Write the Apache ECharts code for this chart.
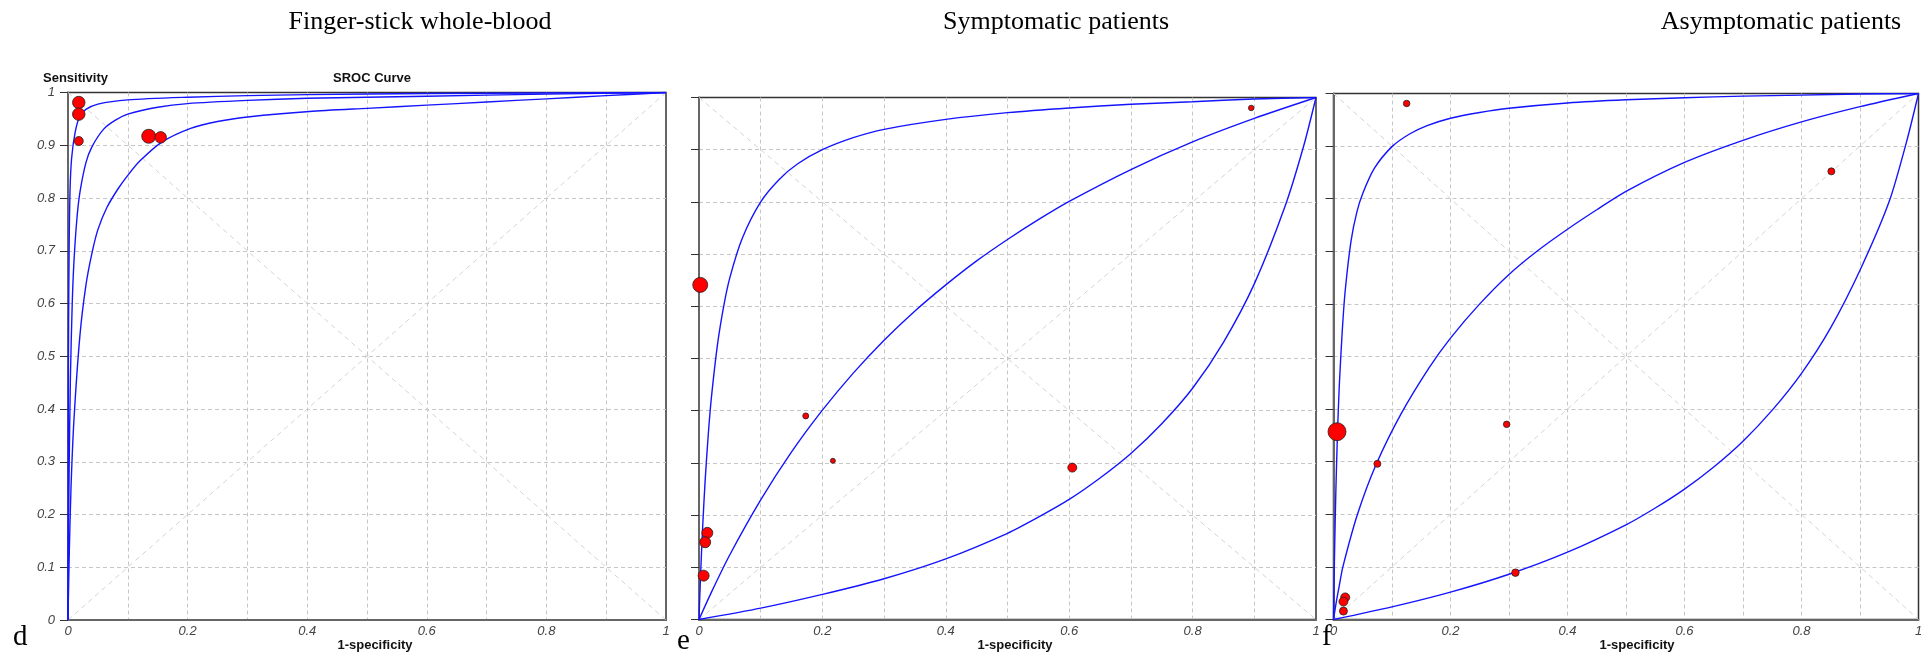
<!DOCTYPE html>
<html><head><meta charset="utf-8">
<script src="https://cdn.jsdelivr.net/npm/echarts@6/dist/echarts.min.js"></script>
<style>html,body{margin:0;padding:0;background:#fff}#c{width:1927px;height:659px}</style>
</head><body><div id="c"></div>
<script>
// ---------- data ----------
const panelTitles = ['Finger-stick whole-blood', 'Symptomatic patients', 'Asymptomatic patients'];
const panelLetters = ['d', 'e', 'f'];
const yAxisName = 'Sensitivity';
const xAxisName = '1-specificity';
const chartName = 'SROC Curve';
const diagUp = [[0, 0], [1, 1]];
const diagDown = [[0, 1], [1, 0]];

// panel d (finger-stick whole blood): [1-specificity, sensitivity]
const dStudies = [[0.018, 0.981], [0.018, 0.959], [0.018, 0.908], [0.135, 0.917], [0.155, 0.915]];
const dWeight = [12.5, 12.5, 9, 14, 11.5];
const dCurveTop = [[0, 0], [0.0005, 0.39], [0.001, 0.56], [0.002, 0.72], [0.0034, 0.815], [0.006, 0.875], [0.012, 0.925], [0.02, 0.956], [0.03, 0.968], [0.05, 0.978], [0.1, 0.986], [0.2, 0.991], [0.3, 0.994], [0.4, 0.996], [0.6, 0.998], [0.8, 0.999], [1, 1]];
const dCurveMid = [[0, 0], [0.001, 0.174], [0.002, 0.296], [0.004, 0.458], [0.007, 0.597], [0.01, 0.68], [0.015, 0.762], [0.02, 0.811], [0.03, 0.867], [0.04, 0.897], [0.06, 0.931], [0.08, 0.948], [0.1, 0.959], [0.15, 0.972], [0.2, 0.979], [0.3, 0.985], [0.4, 0.989], [0.6, 0.993], [0.8, 0.997], [1, 1]];
const dCurveBot = [[0, 0], [0.002, 0.12], [0.005, 0.25], [0.01, 0.38], [0.02, 0.54], [0.03, 0.635], [0.04, 0.695], [0.05, 0.74], [0.065, 0.782], [0.084, 0.818], [0.1, 0.843], [0.12, 0.87], [0.157, 0.906], [0.205, 0.932], [0.25, 0.945], [0.304, 0.954], [0.404, 0.964], [0.5, 0.97], [0.6, 0.976], [0.7, 0.982], [0.8, 0.988], [0.9, 0.994], [1, 1]];

// panel e (symptomatic)
const eStudies = [[0.002, 0.641], [0.173, 0.390], [0.217, 0.304], [0.605, 0.291], [0.895, 0.980], [0.0135, 0.166], [0.010, 0.148], [0.0075, 0.084]];
const eWeight = [15, 6, 5, 9, 5.5, 11, 11, 11];
const eCurveTop = [[0, 0], [0.001, 0.035], [0.003, 0.098], [0.006, 0.179], [0.01, 0.267], [0.015, 0.354], [0.02, 0.424], [0.03, 0.527], [0.04, 0.6], [0.05, 0.655], [0.07, 0.73], [0.1, 0.8], [0.13, 0.843], [0.16, 0.873], [0.2, 0.9], [0.25, 0.923], [0.3, 0.939], [0.4, 0.958], [0.5, 0.971], [0.6, 0.98], [0.7, 0.987], [0.8, 0.992], [0.9, 0.997], [1, 1]];
const eCurveMid = [[0, 0], [0.02, 0.052], [0.05, 0.124], [0.1, 0.229], [0.15, 0.321], [0.2, 0.401], [0.25, 0.472], [0.3, 0.535], [0.35, 0.591], [0.4, 0.641], [0.45, 0.687], [0.5, 0.728], [0.55, 0.766], [0.6, 0.801], [0.7, 0.862], [0.8, 0.915], [0.9, 0.96], [1, 1]];
const eCurveBot = [[0, 0], [0.1, 0.0217], [0.2, 0.048], [0.3, 0.078], [0.4, 0.116], [0.5, 0.165], [0.55, 0.196], [0.6, 0.23], [0.65, 0.271], [0.7, 0.318], [0.75, 0.375], [0.8, 0.443], [0.85, 0.531], [0.9, 0.643], [0.95, 0.792], [0.98, 0.907], [1, 1]];

// panel f (asymptomatic)
const fStudies = [[0.125, 0.981], [0.006, 0.357], [0.296, 0.371], [0.075, 0.296], [0.311, 0.089], [0.020, 0.042], [0.017, 0.034], [0.017, 0.016], [0.851, 0.852]];
const fWeight = [6.5, 18, 6.5, 7, 7.5, 9, 9, 8, 7];
const fCurveTop = [[0, 0], [0.001, 0.074], [0.002, 0.138], [0.004, 0.243], [0.007, 0.361], [0.01, 0.447], [0.015, 0.549], [0.02, 0.625], [0.03, 0.72], [0.04, 0.775], [0.05, 0.81], [0.07, 0.858], [0.1, 0.899], [0.13, 0.923], [0.16, 0.939], [0.2, 0.953], [0.25, 0.964], [0.3, 0.972], [0.4, 0.982], [0.5, 0.988], [0.6, 0.992], [0.7, 0.995], [0.8, 0.997], [0.9, 0.999], [1, 1]];
const fCurveMid = [[0, 0], [0.005, 0.035], [0.01, 0.065], [0.016, 0.1], [0.041, 0.2], [0.073, 0.295], [0.115, 0.39], [0.163, 0.478], [0.2, 0.535], [0.25, 0.6], [0.3, 0.656], [0.35, 0.702], [0.4, 0.742], [0.45, 0.779], [0.5, 0.814], [0.6, 0.869], [0.7, 0.911], [0.8, 0.946], [0.9, 0.975], [1, 1]];
const fCurveBot = [[0, 0], [0.1, 0.024], [0.2, 0.052], [0.3, 0.086], [0.4, 0.128], [0.5, 0.18], [0.55, 0.212], [0.6, 0.248], [0.65, 0.29], [0.7, 0.339], [0.75, 0.398], [0.8, 0.468], [0.85, 0.555], [0.9, 0.664], [0.95, 0.795], [0.98, 0.91], [1, 1]];

const panels = [
  { studies: dStudies, weight: dWeight, curves: [dCurveTop, dCurveMid, dCurveBot] },
  { studies: eStudies, weight: eWeight, curves: [eCurveTop, eCurveMid, eCurveBot] },
  { studies: fStudies, weight: fWeight, curves: [fCurveTop, fCurveMid, fCurveBot] }
];

// ---------- layout ----------
const grids = [
  { left: 68, top: 92.5, width: 598, height: 527.5 },
  { left: 699, top: 97.5, width: 617, height: 522 },
  { left: 1333.5, top: 93.5, width: 585, height: 526 }
];
const titleCenters = [420, 1056, 1781];
const xNameCenters = [375, 1015, 1637];
const letterPos = [[13, 652], [677, 656], [1322, 652]];

const sans = 'Liberation Sans, Arial, sans-serif';
const serif = 'Liberation Serif, Times New Roman, serif';

function xFmt(v) {
  const t = Math.round(v * 10);
  if (t % 2) return '';
  if (t === 0) return '0';
  if (t === 10) return '1';
  return (t / 10).toString();
}
function yFmt(v) {
  const t = Math.round(v * 10);
  if (t === 0) return '0';
  if (t === 10) return '1';
  return (t / 10).toString();
}

const xAxes = [], yAxes = [], series = [];
grids.forEach((g, i) => {
  g.show = true;
  g.borderColor = '#333';
  g.borderWidth = 1.5;
  g.containLabel = false;
  const splitLine = { show: true, showMinLine: false, showMaxLine: false, lineStyle: { color: '#c6c6c6', type: [4, 3], width: 1 } };
  xAxes.push({
    gridIndex: i, type: 'value', min: 0, max: 1, interval: 0.1,
    axisLine: { show: true, onZero: false, lineStyle: { color: '#666', width: 2 } },
    axisTick: { show: false },
    axisLabel: { formatter: xFmt, fontStyle: 'italic', color: '#444', fontSize: 13, fontFamily: sans, margin: 5, showMinLabel: true, showMaxLabel: true, hideOverlap: false },
    splitLine: splitLine
  });
  yAxes.push({
    gridIndex: i, type: 'value', min: 0, max: 1, interval: 0.1,
    axisLine: { show: true, onZero: false, lineStyle: { color: '#666', width: 2 } },
    axisTick: { show: true, length: 8, lineStyle: { color: '#333', width: 1 } },
    axisLabel: { show: i === 0, formatter: yFmt, fontStyle: 'italic', color: '#444', fontSize: 13, fontFamily: sans, margin: 13 },
    splitLine: splitLine
  });
  [diagUp, diagDown].forEach(dg => series.push({
    type: 'line', xAxisIndex: i, yAxisIndex: i, data: dg, silent: true, symbol: 'none',
    lineStyle: { color: '#d4d4d4', width: 1, type: [5, 4] }, z: 1, animation: false
  }));
  panels[i].curves.forEach(c => series.push({
    type: 'line', xAxisIndex: i, yAxisIndex: i, data: c, symbol: 'none', smooth: 0.25,
    lineStyle: { color: '#1414ff', width: 1.4 }, z: 3, animation: false
  }));
  const p = panels[i];
  series.push({
    type: 'scatter', xAxisIndex: i, yAxisIndex: i,
    data: p.studies.map((s, k) => [s[0], s[1], p.weight[k]]),
    symbol: 'circle',
    symbolSize: v => v[2],
    itemStyle: { color: '#ff0000', borderColor: '#222', borderWidth: 0.8, opacity: 1 },
    z: 5, animation: false
  });
});

const graphics = [];
panelTitles.forEach((t, i) => graphics.push({
  type: 'text', x: titleCenters[i], y: 22,
  style: { text: t, font: '26px ' + serif, fill: '#000', textAlign: 'center', textVerticalAlign: 'middle' }
}));
panelLetters.forEach((t, i) => graphics.push({
  type: 'text', x: letterPos[i][0], y: letterPos[i][1],
  style: { text: t, font: '29px ' + serif, fill: '#000', textAlign: 'left', textVerticalAlign: 'bottom' }
}));
xNameCenters.forEach(cx => graphics.push({
  type: 'text', x: cx, y: 645,
  style: { text: xAxisName, font: 'bold 13px ' + sans, fill: '#111', textAlign: 'center', textVerticalAlign: 'middle' }
}));
graphics.push({ type: 'text', x: 43, y: 78, style: { text: yAxisName, font: 'bold 13px ' + sans, fill: '#111', textAlign: 'left', textVerticalAlign: 'middle' } });
graphics.push({ type: 'text', x: 333, y: 78, style: { text: chartName, font: 'bold 13px ' + sans, fill: '#111', textAlign: 'left', textVerticalAlign: 'middle' } });

const chart = echarts.init(document.getElementById('c'), null, { renderer: 'canvas' });
chart.setOption({
  backgroundColor: '#fff',
  animation: false,
  grid: grids,
  xAxis: xAxes,
  yAxis: yAxes,
  series: series,
  graphic: graphics
});
</script></body></html>
